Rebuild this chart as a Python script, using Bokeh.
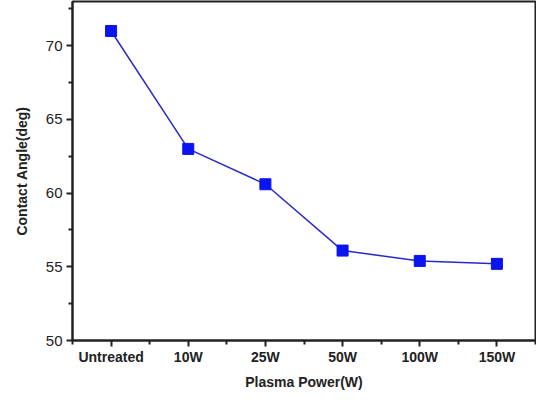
from bokeh.plotting import figure
from bokeh.models import FixedTicker, Range1d
from bokeh.embed import file_html
from bokeh.resources import INLINE

categories = ["Untreated", "10W", "25W", "50W", "100W", "150W"]
contact_angle = [71.0, 63.0, 60.6, 56.1, 55.4, 55.2]
y_ticks = [50, 55, 60, 65, 70]
y_minor = [52.5, 57.5, 62.5, 67.5, 72.5]

xs = list(range(len(categories)))

p = figure(width=536, height=392, output_backend="svg", toolbar_location=None,
           x_range=Range1d(-0.5, len(categories) - 0.5), y_range=Range1d(50, 73),
           min_border_left=72, min_border_right=1, min_border_top=1, min_border_bottom=40)
p.background_fill_color = "white"
p.border_fill_color = "white"
p.outline_line_color = "#222222"
p.outline_line_width = 2
p.xgrid.visible = False
p.ygrid.visible = False

p.line(xs, contact_angle, line_color="#2a2ac8", line_width=1.5)
p.scatter(xs, contact_angle, marker="square", size=11, fill_color="#0a14f0", line_color="#0a14f0")

p.xaxis.ticker = FixedTicker(ticks=xs, minor_ticks=[i + 0.5 for i in range(-1, len(categories))])
p.xaxis.major_label_overrides = {i: c for i, c in enumerate(categories)}
p.yaxis.ticker = FixedTicker(ticks=y_ticks, minor_ticks=y_minor)

for ax in (p.xaxis[0], p.yaxis[0]):
    ax.axis_line_width = 2
    ax.axis_line_color = "#222222"
    ax.major_tick_line_width = 2
    ax.minor_tick_line_width = 2
    ax.major_tick_line_color = "#222222"
    ax.minor_tick_line_color = "#222222"
    ax.major_tick_out = 6
    ax.major_tick_in = 0
    ax.minor_tick_out = 4
    ax.minor_tick_in = 0
    ax.major_label_text_font = "Liberation Sans"
    ax.major_label_text_font_size = "14px"
    ax.major_label_text_color = "#222222"
    ax.axis_label_text_font = "Liberation Sans"
    ax.axis_label_text_font_size = "14px"
    ax.axis_label_text_font_style = "bold"
    ax.axis_label_text_color = "#222222"

p.yaxis.major_label_text_font_size = "15px"
p.xaxis.major_label_text_font_style = "bold"
p.xaxis.major_label_standoff = 2
p.yaxis.major_label_standoff = 4
p.xaxis.axis_label = "Plasma Power(W)"
p.yaxis.axis_label = "Contact Angle(deg)"
p.xaxis.axis_label_standoff = 6
p.yaxis.axis_label_standoff = 13

open("out.html", "w").write(file_html(p, INLINE))
